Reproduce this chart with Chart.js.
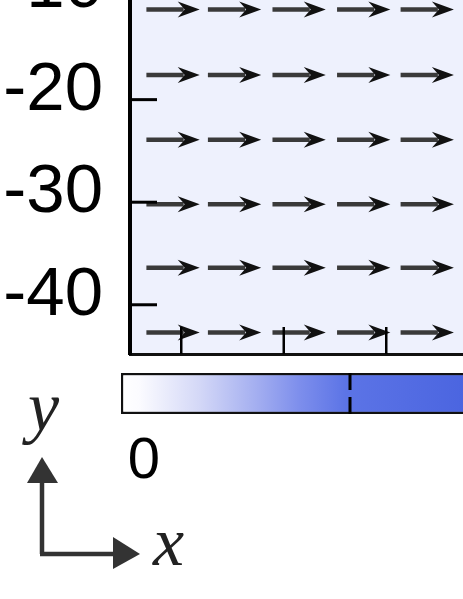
<!DOCTYPE html>
<html>
<head>
<meta charset="utf-8">
<script src="https://cdn.jsdelivr.net/npm/chart.js@4"></script>
<style>
  html, body { margin: 0; padding: 0; width: 463px; height: 599px; overflow: hidden; background: #fff; }
  #field { position: absolute; left: 0; top: -46px; }
  #cbar  { position: absolute; left: 121px; top: 373px; }
  #key   { position: absolute; left: 0; top: 380px; }
</style>
</head>
<body>
<canvas id="field" width="540" height="410"></canvas>
<canvas id="cbar" width="458" height="130"></canvas>
<svg id="key" width="200" height="219" xmlns="http://www.w3.org/2000/svg">
  <text x="28" y="50" font-family="Liberation Serif" font-style="italic" font-size="70" fill="#222">y</text>
  <line x1="42" y1="100" x2="42" y2="174" stroke="#333" stroke-width="4.5"/>
  <polygon points="42,77 27,103 58,103" fill="#333"/>
  <line x1="40" y1="174" x2="115" y2="174" stroke="#333" stroke-width="4.5"/>
  <polygon points="140,174 113,157 113,189" fill="#333"/>
  <text x="153" y="185" font-family="Liberation Serif" font-style="italic" font-size="70" fill="#222">x</text>
</svg>

<script>
// ---- data ----
const yTicks = [-10, -20, -30, -40];
const xTicks = [5, 15, 25];
const quiverX = [4.2, 10.2, 16.5, 22.8, 29.0];          // arrow centres
const quiverY = [-11.2, -17.6, -23.9, -30.2, -36.4, -42.7];
const quiverU = [5.2, 5.2, 5.2, 5.2, 5.2, 5.2];          // x-component per row
const quiverV = [0, 0, 0, 0, 0, 0];

const cbTicks = [0];
const cbRange = [0, 1];
const cbMarker = 0.5;

// ---- quiver panel ----
const points = [];
quiverY.forEach((y, r) => {
  quiverX.forEach(x => points.push({ x, y, u: quiverU[r], v: quiverV[r] }));
});

const bgPlugin = {
  id: 'bg',
  beforeDraw(chart) {
    const { ctx, chartArea: a } = chart;
    ctx.save();
    ctx.fillStyle = '#eef1fd';
    ctx.fillRect(a.left, a.top, a.right - a.left, a.bottom - a.top);
    ctx.restore();
  }
};

const quiverPlugin = {
  id: 'quiver',
  afterDatasetsDraw(chart) {
    const { ctx, scales: { x, y } } = chart;
    ctx.save();
    chart.data.datasets[0].data.forEach(p => {
      const x0 = x.getPixelForValue(p.x - p.u / 2), y0 = y.getPixelForValue(p.y - p.v / 2);
      const x1 = x.getPixelForValue(p.x + p.u / 2), y1 = y.getPixelForValue(p.y + p.v / 2);
      const ang = Math.atan2(y1 - y0, x1 - x0);
      const c = Math.cos(ang), s = Math.sin(ang);
      const hl = 22, hw = 8;
      const bx = x1 - hl * c, by = y1 - hl * s;
      ctx.strokeStyle = '#3a3a3a';
      ctx.lineWidth = 4.5;
      ctx.beginPath();
      ctx.moveTo(x0, y0);
      ctx.lineTo(bx + 6 * c, by + 6 * s);
      ctx.stroke();
      ctx.fillStyle = '#111';
      ctx.beginPath();
      ctx.moveTo(x1, y1);
      ctx.lineTo(bx - hw * s, by + hw * c);
      ctx.lineTo(bx + 7 * c, by + 7 * s);
      ctx.lineTo(bx + hw * s, by - hw * c);
      ctx.closePath();
      ctx.fill();
    });
    ctx.restore();
  }
};

// ticks pointing into the plot
const innerTicks = {
  id: 'innerTicks',
  afterDraw(chart) {
    const { ctx, chartArea: a, scales: { x, y } } = chart;
    ctx.save();
    ctx.strokeStyle = '#000';
    ctx.lineWidth = 3;
    y.ticks.forEach(t => {
      const py = y.getPixelForValue(t.value);
      ctx.beginPath(); ctx.moveTo(a.left, py); ctx.lineTo(a.left + 27, py); ctx.stroke();
    });
    ctx.lineWidth = 2.5;
    x.ticks.forEach(t => {
      const px = x.getPixelForValue(t.value);
      ctx.beginPath(); ctx.moveTo(px, a.bottom); ctx.lineTo(px, a.bottom - 27); ctx.stroke();
    });
    ctx.restore();
  }
};

new Chart(document.getElementById('field'), {
  type: 'scatter',
  data: { datasets: [{ data: points, pointRadius: 0 }] },
  options: {
    responsive: false,
    animation: false,
    layout: { padding: 0 },
    plugins: { legend: { display: false }, tooltip: { enabled: false } },
    scales: {
      x: {
        min: 0, max: 40,
        afterBuildTicks: s => { s.ticks = xTicks.map(v => ({ value: v })); },
        afterFit: s => { s.height = 10; s.paddingLeft = 0; s.paddingRight = 0; },
        ticks: { display: false },
        grid: { display: false },
        border: { display: true, color: '#111', width: 3 }
      },
      y: {
        min: -44.8, max: -5.8,
        afterBuildTicks: s => { s.ticks = yTicks.map(v => ({ value: v })); },
        afterFit: s => { s.width = 130; s.paddingTop = 0; s.paddingBottom = 0; },
        ticks: {
          color: '#000', padding: 19, labelOffset: -9,
          font: { family: 'Liberation Sans, Arial', size: 69 }
        },
        grid: { display: false },
        border: { display: true, color: '#000', width: 4 }
      }
    }
  },
  plugins: [bgPlugin, quiverPlugin, innerTicks]
});

// ---- colour bar ----
const markerPlugin = {
  id: 'marker',
  afterDatasetsDraw(chart) {
    const { ctx, chartArea: a, scales: { x } } = chart;
    const px = x.getPixelForValue(cbMarker);
    ctx.save();
    ctx.strokeStyle = '#000';
    ctx.lineWidth = 3;
    ctx.setLineDash([17, 7]);
    ctx.beginPath(); ctx.moveTo(px, a.top); ctx.lineTo(px, a.bottom); ctx.stroke();
    ctx.restore();
  }
};

new Chart(document.getElementById('cbar'), {
  type: 'bar',
  data: {
    labels: ['c'],
    datasets: [{
      data: [cbRange[1]],
      backgroundColor: ctx => {
        const a = ctx.chart.chartArea;
        if (!a) return '#5068e0';
        const g = ctx.chart.ctx.createLinearGradient(a.left, 0, a.right, 0);
        g.addColorStop(0, '#ffffff');
        g.addColorStop(0.04, '#fbfbff');
        g.addColorStop(0.17, '#d4d8f7');
        g.addColorStop(0.30, '#a2adf0');
        g.addColorStop(0.39, '#7d8eec');
        g.addColorStop(0.49, '#5c74e6');
        g.addColorStop(0.75, '#4b65e0');
        g.addColorStop(1, '#4460dd');
        return g;
      },
      borderColor: '#111',
      borderWidth: 2.5,
      borderSkipped: false,
      barPercentage: 1,
      categoryPercentage: 1
    }]
  },
  options: {
    indexAxis: 'y',
    responsive: false,
    animation: false,
    layout: { padding: 0 },
    plugins: { legend: { display: false }, tooltip: { enabled: false } },
    scales: {
      x: {
        min: cbRange[0], max: cbRange[1],
        afterBuildTicks: s => { s.ticks = cbTicks.map(v => ({ value: v })); },
        afterFit: s => { s.height = 89; s.paddingLeft = 0; s.paddingRight = 0; },
        ticks: {
          color: '#000', padding: 5, labelOffset: 23,
          font: { family: 'Liberation Sans, Arial', size: 58 }
        },
        grid: { display: false },
        border: { display: false }
      },
      y: { display: false }
    }
  },
  plugins: [markerPlugin]
});
</script>
</body>
</html>
